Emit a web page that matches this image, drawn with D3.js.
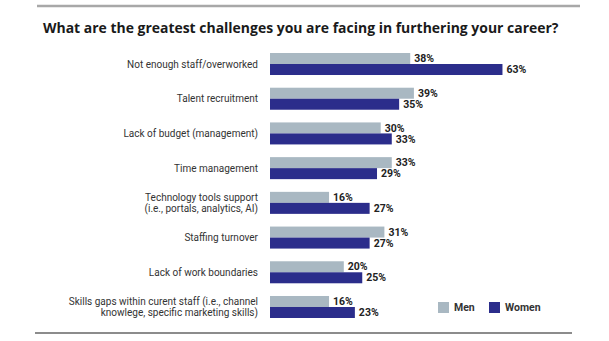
<!DOCTYPE html>
<html><head><meta charset="utf-8">
<script src="https://cdn.jsdelivr.net/npm/d3@7"></script>
<style>body{margin:0;background:#fff}svg{display:block}</style>
</head><body>
<script>
const categories = [
  ["Not enough staff/overworked"],
  ["Talent recruitment"],
  ["Lack of budget (management)"],
  ["Time management"],
  ["Technology tools support", "(i.e., portals, analytics, AI)"],
  ["Staffing turnover"],
  ["Lack of work boundaries"],
  ["Skills gaps within curent staff (i.e., channel", "knowlege, specific marketing skills)"]
];
const seriesNames = ["Men", "Women"];
const men =   [38, 39, 30, 33, 16, 31, 20, 16];
const women = [63, 35, 33, 29, 27, 27, 25, 23];
const colors = ["#a9b8c2", "#2b2d8b"];
const title = "What are the greatest challenges you are facing in furthering your career?";

const W = 609, H = 341;
const svg = d3.select("body").append("svg").attr("width", W).attr("height", H);

svg.append("line").attr("x1", 37).attr("x2", 580).attr("y1", 6).attr("y2", 6)
  .attr("stroke", "#a8a8a8").attr("stroke-width", 2.5);
svg.append("line").attr("x1", 35).attr("x2", 572).attr("y1", 333).attr("y2", 333)
  .attr("stroke", "#666").attr("stroke-width", 1.5);

const t = svg.append("text").attr("x", 43).attr("y", 33).text(title)
  .attr("font-family", "'Open Sans', sans-serif").attr("font-weight", 700)
  .attr("font-size", 16).attr("fill", "#1a1a1a");
const tl = t.node().getComputedTextLength();
t.attr("font-size", 16 * 516 / tl);

const idx = d3.range(categories.length);
const x = d3.scaleLinear().domain([0, 100]).range([270, 639]);
const y = d3.scaleBand().domain(idx).range([53, 318]).paddingInner(0.366).paddingOuter(0);
const ys = d3.scaleBand().domain(seriesNames).range([0, y.bandwidth()]);
const data = idx.map(i => ({i, vals: [men[i], women[i]]}));

const g = svg.append("g").selectAll("g").data(data).join("g")
  .attr("transform", d => `translate(0,${y(d.i)})`);

g.selectAll("rect").data(d => d.vals.map((v, k) => ({v, k}))).join("rect")
  .attr("x", x(0)).attr("y", d => ys(seriesNames[d.k]))
  .attr("width", d => x(d.v) - x(0)).attr("height", ys.bandwidth())
  .attr("fill", d => colors[d.k]);

g.selectAll("text.val").data(d => d.vals.map((v, k) => ({v, k}))).join("text")
  .attr("class", "val")
  .attr("x", d => x(d.v) + 4).attr("y", d => ys(seriesNames[d.k]) + ys.bandwidth() / 2)
  .attr("dy", "0.35em").text(d => d.v + "%")
  .attr("font-family", "Roboto, sans-serif").attr("font-weight", 700)
  .attr("font-size", 10.5).attr("fill", "#222");

g.append("text").attr("text-anchor", "end").attr("x", 258)
  .attr("font-family", "Roboto, sans-serif").attr("font-size", 10).attr("fill", "#333")
  .each(function(d) {
    const lines = categories[d.i];
    const c = y.bandwidth() / 2;
    const sel = d3.select(this);
    lines.forEach((ln, j) => {
      sel.append("tspan").attr("x", 258)
        .attr("y", c + (j - (lines.length - 1) / 2) * 11.5)
        .attr("dy", "0.35em").text(ln);
    });
  });

const lg = svg.append("g").selectAll("g").data(seriesNames).join("g")
  .attr("transform", (d, k) => `translate(${[438, 489][k]},302)`);
lg.append("rect").attr("width", 11).attr("height", 11).attr("fill", (d, k) => colors[k]);
lg.append("text").attr("x", 16).attr("y", 5.5).attr("dy", "0.35em").text(d => d)
  .attr("font-family", "Roboto, sans-serif").attr("font-weight", 700)
  .attr("font-size", 10.5).attr("fill", "#333");
</script>
</body></html>
